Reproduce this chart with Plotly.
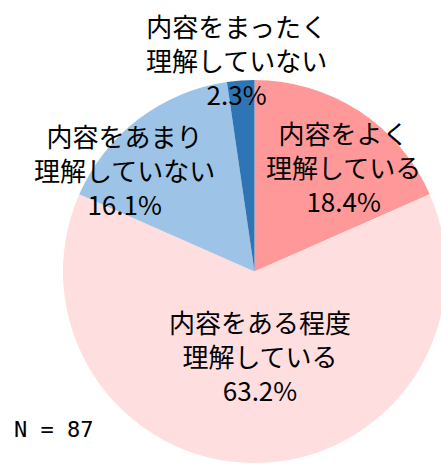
import plotly.graph_objects as go

labels = ["内容をよく<br>理解している", "内容をある程度<br>理解している",
          "内容をあまり<br>理解していない", "内容をまったく<br>理解していない"]
values = [18.4, 63.2, 16.1, 2.3]
colors = ["#FF9999", "#FFDEDF", "#9DC3E6", "#2E75B6"]
n_total = 87

W, H = 450, 464
# label centres in pixels (x, y)
label_pos = [(343, 166), (260, 355), (124, 169), (237, 60)]

fig = go.Figure(go.Pie(
    labels=labels,
    values=values,
    marker=dict(colors=colors, line=dict(width=0)),
    sort=False,
    direction="clockwise",
    rotation=0,
    textinfo="none",
    hoverinfo="label+percent",
    domain=dict(x=[63 / W, 446 / W], y=[1 / H, 1 - 80 / H]),
    showlegend=False,
))

for lab, v, (px, py) in zip(labels, values, label_pos):
    fig.add_annotation(
        x=px / W, y=1 - py / H, xref="paper", yref="paper",
        text=f"{lab}<br>{v:.1f}%", showarrow=False,
        xanchor="center", yanchor="middle",
        font=dict(size=26, color="black", family="Noto Sans CJK JP"),
    )

fig.add_annotation(
    x=12 / W, y=1 - 429 / H, xref="paper", yref="paper",
    text=f"N = {n_total}", showarrow=False,
    xanchor="left", yanchor="middle",
    font=dict(size=22, color="black", family="DejaVu Sans Mono"),
)

fig.update_layout(
    width=W, height=H,
    margin=dict(l=0, r=0, t=0, b=0),
    paper_bgcolor="white",
)

fig.write_html("out.html", config={"displayModeBar": False},
               post_script="document.body.style.margin='0';document.body.style.overflow='hidden';")
